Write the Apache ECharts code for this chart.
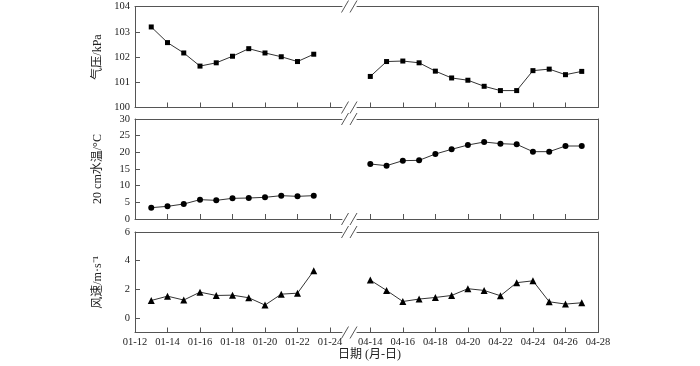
<!DOCTYPE html>
<html><head><meta charset="utf-8">
<script src="https://cdn.jsdelivr.net/npm/echarts@6/dist/echarts.min.js"></script>
<style>html,body{margin:0;padding:0;background:#fff}#c{width:700px;height:366px}</style>
</head><body><div id="c"></div>
<script>
// ---- data ----
const janDays = [13,14,15,16,17,18,19,20,21,22,23];
const aprDays = [14,15,16,17,18,19,20,21,22,23,24,25,26,27];
const pressureJan = [103.19,102.57,102.16,101.64,101.77,102.03,102.33,102.16,102.01,101.82,102.11];
const pressureApr = [101.23,101.82,101.84,101.77,101.44,101.17,101.08,100.84,100.67,100.67,101.46,101.52,101.30,101.43];
const tempJan = [3.4,3.8,4.5,5.8,5.6,6.2,6.3,6.5,7.0,6.8,7.0];
const tempApr = [16.5,16.0,17.5,17.6,19.5,20.9,22.2,23.1,22.6,22.4,20.2,20.2,21.9,21.9];
const windJan = [1.23,1.53,1.26,1.81,1.58,1.60,1.42,0.91,1.67,1.74,3.30];
const windApr = [2.65,1.93,1.16,1.33,1.44,1.58,2.05,1.93,1.56,2.47,2.60,1.14,0.98,1.07];
const janTicks = [12,14,16,18,20,22,24];
const aprTicks = [14,16,18,20,22,24,26,28];
const yNames = ['气压/kPa','20 cm水温/°C','风速/m·s⁻¹'];
const xName = '日期 (月-日)';

// ---- layout ----
const FONT = '"Liberation Serif","Noto Sans CJK SC",serif';
const CJK = '"Liberation Serif","Noto Sans CJK SC",serif';
const AX = '#555';
const panels = [
  {top:6.5, h:101, yMin:100, yMax:104, yTicks:[100,101,102,103,104], jan:pressureJan, apr:pressureApr, sym:'rect', size:5},
  {top:119, h:100, yMin:0, yMax:30, yTicks:[0,5,10,15,20,25,30], jan:tempJan, apr:tempApr, sym:'circle', size:6},
  {top:232, h:100.5, yMin:-1, yMax:6, yTicks:[0,2,4,6], jan:windJan, apr:windApr, sym:'triangle', size:7}
];
const L1 = 135, R1 = 342, L2 = 357, R2 = 598;
const pad = v => (v < 10 ? '0' : '') + v;

const grid = [], xAxis = [], yAxis = [], series = [];
panels.forEach((p, i) => {
  const last = i === 2;
  grid.push({left:L1, width:R1-L1, top:p.top, height:p.h});
  grid.push({left:L2, width:R2-L2, top:p.top, height:p.h});
  const gl = grid.length - 2, gr = grid.length - 1;
  const xl = xAxis.length;
  xAxis.push({type:'value', gridIndex:gl, min:12, max:12 + (R1-L1)/16.25, position:'bottom',
    axisLine:{show:true, onZero:false, lineStyle:{color:AX}},
    axisTick:{show:true, inside:true, length:5, customValues:janTicks, lineStyle:{color:AX}},
    axisLabel:{show:last, customValues:janTicks, formatter:v=>'01-'+pad(v), fontFamily:FONT, fontSize:10.5, color:'#222', margin:5},
    splitLine:{show:false}});
  xAxis.push({type:'value', gridIndex:gl, min:12, max:12 + (R1-L1)/16.25, position:'top',
    axisLine:{show:true, onZero:false, lineStyle:{color:AX}}, axisTick:{show:false}, axisLabel:{show:false}, splitLine:{show:false}});
  const aprMin = 14 - (370.3 - L2)/16.26;
  xAxis.push({type:'value', gridIndex:gr, min:aprMin, max:28, position:'bottom',
    axisLine:{show:true, onZero:false, lineStyle:{color:AX}},
    axisTick:{show:true, inside:true, length:5, customValues:aprTicks, lineStyle:{color:AX}},
    axisLabel:{show:last, customValues:aprTicks, formatter:v=>'04-'+pad(v), fontFamily:FONT, fontSize:10.5, color:'#222', margin:5},
    splitLine:{show:false}});
  xAxis.push({type:'value', gridIndex:gr, min:aprMin, max:28, position:'top',
    axisLine:{show:true, onZero:false, lineStyle:{color:AX}}, axisTick:{show:false}, axisLabel:{show:false}, splitLine:{show:false}});
  const yl = yAxis.length;
  yAxis.push({type:'value', gridIndex:gl, min:p.yMin, max:p.yMax, position:'left',
    name:yNames[i], nameLocation:'middle', nameGap:31, nameRotate:90,
    nameTextStyle:{fontFamily:CJK, fontSize:12, color:'#222'},
    axisLine:{show:true, onZero:false, lineStyle:{color:AX}},
    axisTick:{show:true, inside:true, length:5, customValues:p.yTicks, lineStyle:{color:AX}},
    axisLabel:{customValues:p.yTicks, fontFamily:FONT, fontSize:10.5, color:'#222', margin:5},
    splitLine:{show:false}});
  yAxis.push({type:'value', gridIndex:gr, min:p.yMin, max:p.yMax, position:'left',
    axisLine:{show:false}, axisTick:{show:false}, axisLabel:{show:false}, splitLine:{show:false}});
  yAxis.push({type:'value', gridIndex:gr, min:p.yMin, max:p.yMax, position:'right',
    axisLine:{show:true, onZero:false, lineStyle:{color:AX}}, axisTick:{show:false}, axisLabel:{show:false}, splitLine:{show:false}});
  const mk = (days, vals) => days.map((d, k) => [d, vals[k]]);
  const common = {type:'line', symbol:p.sym, symbolSize:p.size, showAllSymbol:true,
    lineStyle:{color:'#333', width:1}, itemStyle:{color:'#000'}, silent:true, animation:false};
  series.push(Object.assign({xAxisIndex:xl, yAxisIndex:yl, data:mk(janDays, p.jan)}, common));
  series.push(Object.assign({xAxisIndex:xl+2, yAxisIndex:yl+1, data:mk(aprDays, p.apr)}, common));
});

// break marks "//" on each horizontal border
const graphic = [];
const borders = [];
panels.forEach(p => { borders.push(p.top, p.top + p.h); });
borders.forEach(y => {
  [345, 353.5].forEach(cx => {
    graphic.push({type:'line', shape:{x1:cx-3.5, y1:y+6, x2:cx+3.5, y2:y-6}, style:{stroke:'#555', lineWidth:1}, silent:true});
  });
});
graphic.push({type:'text', left:338, top:349,
  style:{text:xName, font:'12px ' + CJK, fill:'#222'}});

const chart = echarts.init(document.getElementById('c'), null, {renderer:'canvas'});
chart.setOption({animation:false, grid, xAxis, yAxis, series, graphic});
</script>
</body></html>
